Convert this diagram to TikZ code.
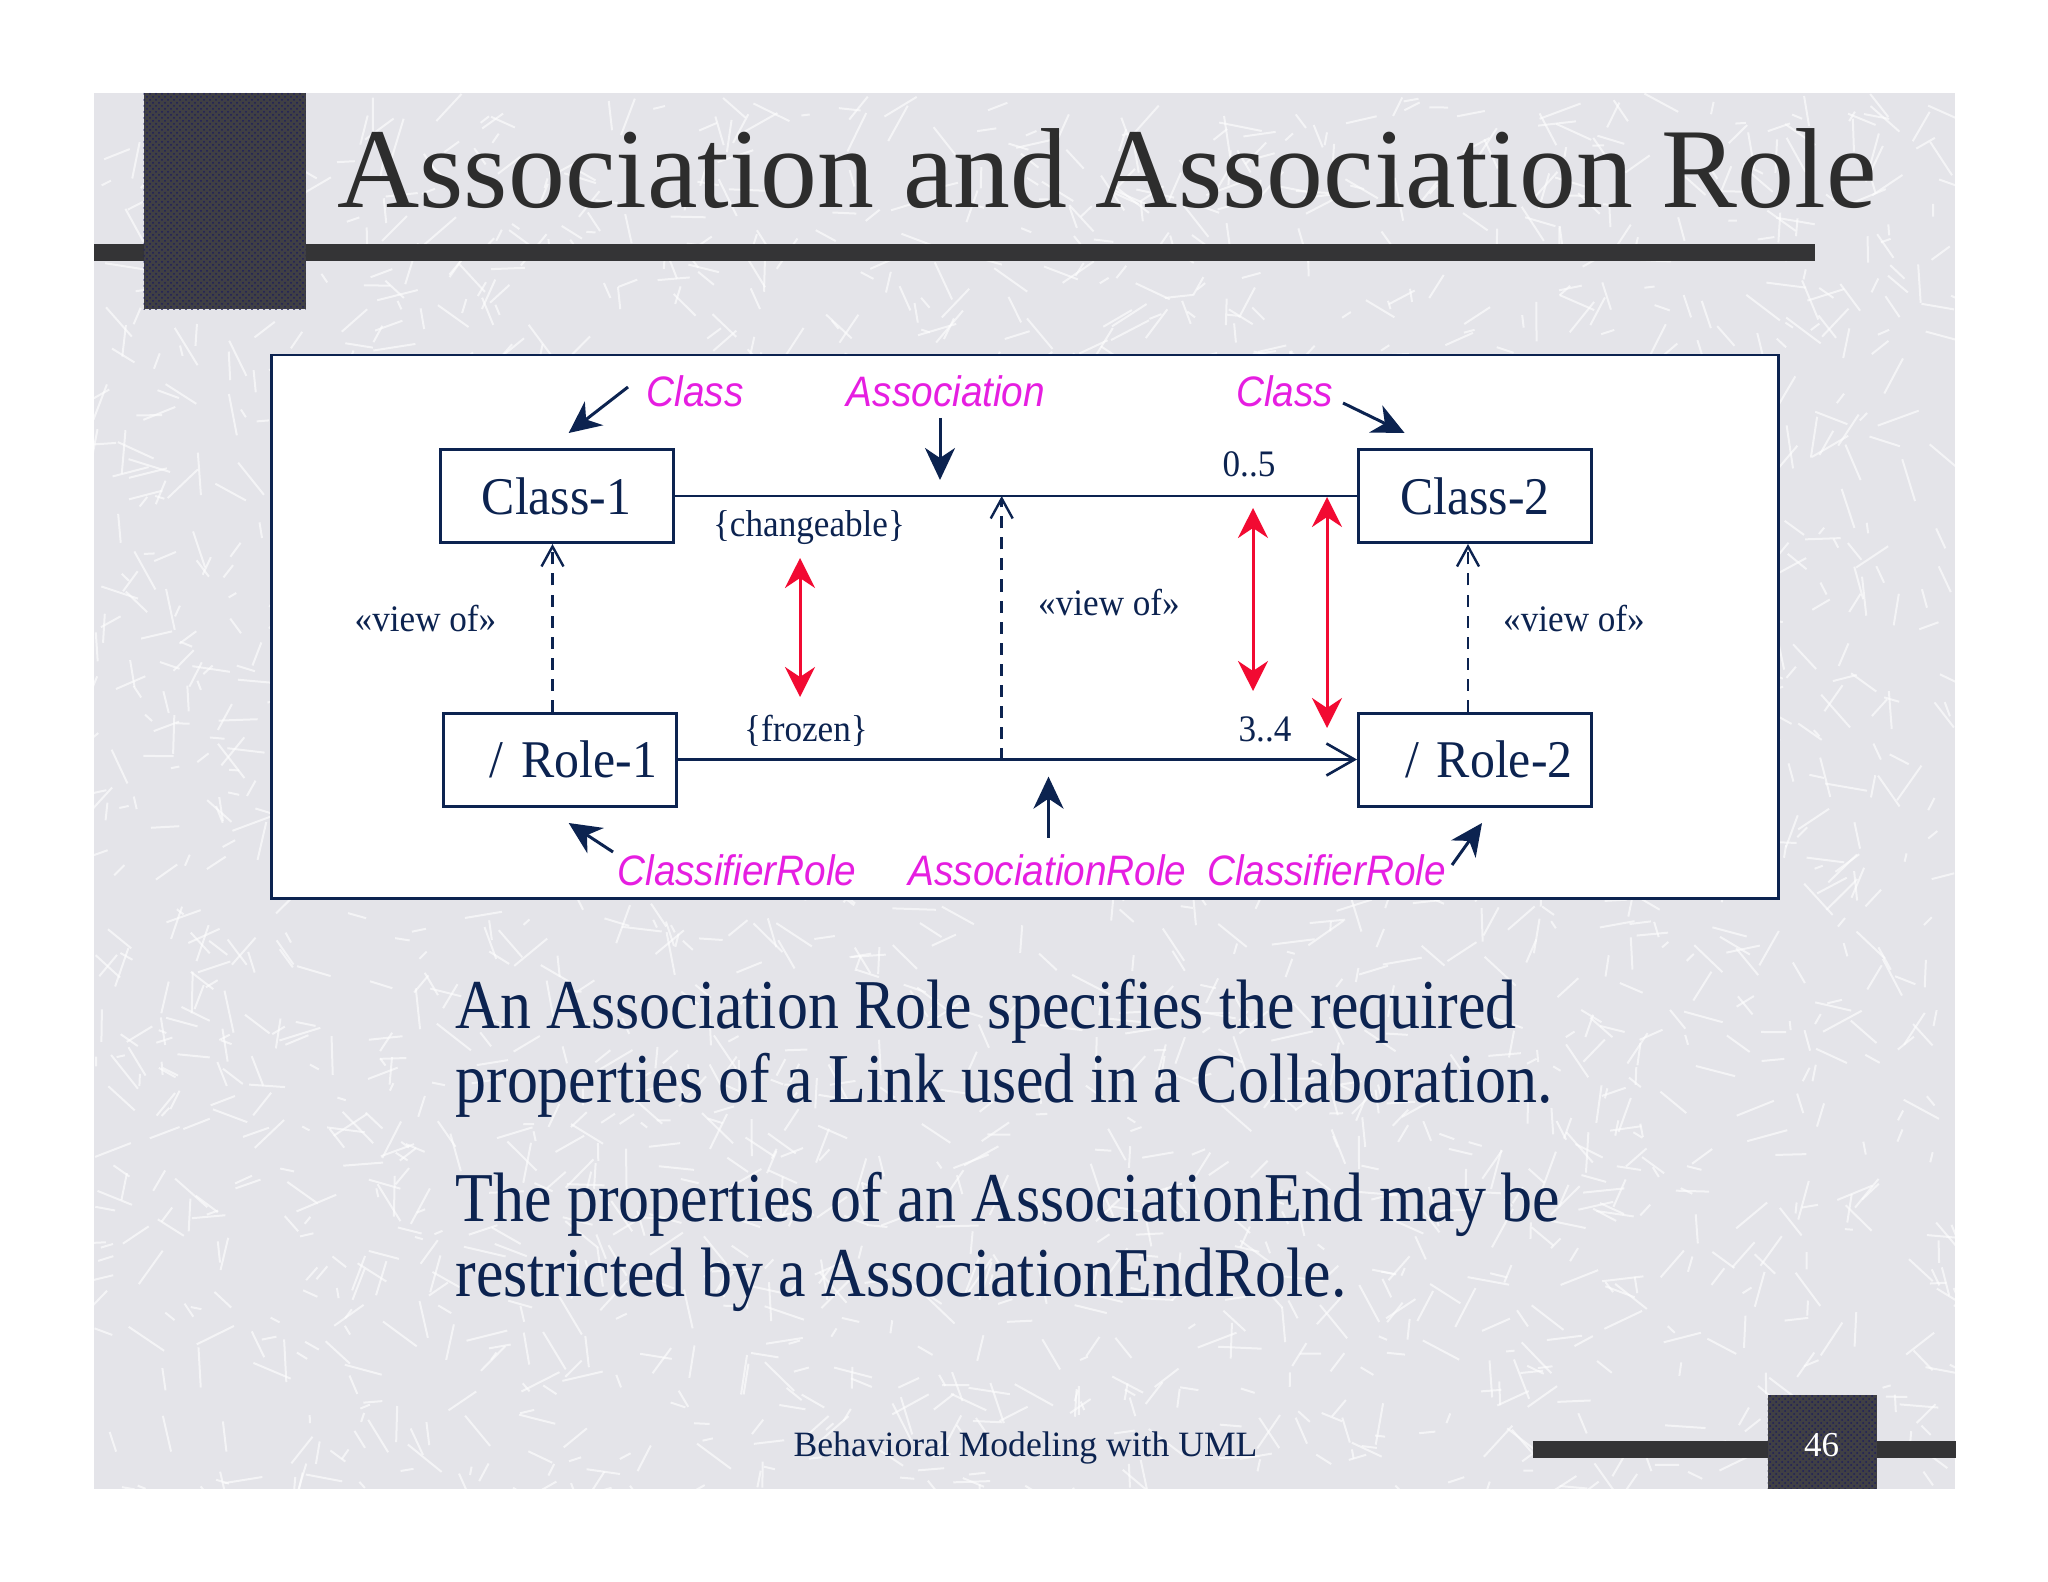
\documentclass[tikz,border=0pt]{standalone}
\usepackage{fontspec}
\setmainfont{Liberation Serif}
\newfontfamily\bodyfont{Liberation Serif}[FakeStretch=0.885]
\newfontfamily\diagfont{Liberation Serif}[FakeStretch=0.94]
\newfontfamily\metafont{Liberation Sans}[FakeStretch=0.91]
\usetikzlibrary{arrows.meta,patterns,calc}
\definecolor{bggray}{RGB}{228,228,233}
\definecolor{darkbar}{RGB}{52,52,54}
\definecolor{sqdark}{RGB}{64,64,68}
\definecolor{sqdot}{RGB}{30,30,90}
\definecolor{navy}{RGB}{12,35,80}
\definecolor{titlegray}{RGB}{45,45,45}
\definecolor{meta}{RGB}{230,30,225}
\definecolor{redarr}{RGB}{242,10,50}
\tikzset{
  umlbox/.style={draw=navy, line width=1.5pt, fill=white, minimum width=116.5pt, minimum height=46.5pt, inner sep=0pt, font=\diagfont\fontsize{26.5}{30}\selectfont, text=navy},
  rolebox/.style={umlbox, text width=97.5pt, align=right, inner xsep=9.5pt},
  smalltxt/.style={font=\diagfont\fontsize{18.7}{21}\selectfont, text=navy, inner sep=0pt},
  metatxt/.style={font=\metafont\itshape\fontsize{21.3}{24}\selectfont, text=meta, inner sep=0pt},
  conn/.style={draw=navy, line width=1.3pt},
  viewof/.style={conn, dash pattern=on 6pt off 4.5pt, -{Straight Barb[length=10pt,width=11pt,line width=1.2pt]}},
  pointer/.style={draw=navy, line width=1.5pt, -{Stealth[length=16pt,width=15pt,inset=5pt]}},
  swap/.style={draw=redarr, line width=1.5pt, {Stealth[length=15pt,width=15pt,inset=5pt]}-{Stealth[length=15pt,width=15pt,inset=5pt]}},
  bodytxt/.style={font=\bodyfont\fontsize{35}{37}\selectfont, text=navy, inner sep=0pt, anchor=base west},
}
\begin{document}
\begin{tikzpicture}[x=0.5pt,y=-0.5pt]
\useasboundingbox (0,0) rectangle (2048,1582);
\fill[white] (0,0) rectangle (2048,1582);
% slide background with texture
\fill[bggray] (94,93) rectangle (1955,1489);
\begin{scope}
\clip (94,93) rectangle (1955,1489);
\pgfmathsetseed{42}
\foreach \i in {1,...,2400} {
  \pgfmathsetmacro\xa{94+rnd*1861}
  \pgfmathsetmacro\ya{93+rnd*1396}
  \pgfmathsetmacro\ang{rnd*180}
  \pgfmathsetmacro\len{8+rnd*36}
  \draw[white, line width=1pt, opacity=0.6] (\xa,\ya) -- ++(\ang:\len);
}
\end{scope}
% title decoration
\fill[darkbar] (94,244) rectangle (1815,261);
\fill[sqdark] (143.7,93) rectangle (305.6,309.5);
\fill[pattern=crosshatch dots, pattern color=sqdot] (143.7,93) rectangle (305.6,309.5);
\node[anchor=base west, inner sep=0pt, text=titlegray, font=\fontsize{56.9}{60}\selectfont] (title) at (337,208) {Association and Association Role};
% footer decoration
\fill[darkbar] (1533,1441) rectangle (1956,1457.7);
\fill[sqdark] (1767.5,1395) rectangle (1876.6,1488.7);
\fill[pattern=crosshatch dots, pattern color=sqdot] (1767.5,1395) rectangle (1876.6,1488.7);
\node[inner sep=0pt, text=white, font=\fontsize{17.5}{20}\selectfont] (pagenum) at (1821.7,1445) {46};
\node[anchor=base, inner sep=0pt, text=navy, font=\fontsize{17.8}{20}\selectfont] (footer) at (1025.5,1456) {Behavioral Modeling with UML};
% diagram frame
\node[draw=navy, line width=1.3pt, fill=white, minimum width=753.5pt, minimum height=271.8pt, inner sep=0pt] (frame) at (1025.1,626.8) {};
% boxes
\node[umlbox] (c1) at (556.5,496) {Class-1};
\node[umlbox] (c2) at (1475,496) {Class-2};
\node[rolebox] (r1) at (559.5,759.5) {/ Role-1};
\node[rolebox] (r2) at (1475,759.5) {/ Role-2};
% associations
\draw[conn] (c1.east) -- (c2.west);
\draw[conn, -{Straight Barb[length=14pt,width=16pt,line width=1.3pt]}] (r1.east) -- (r2.west);
% view-of dependencies
\draw[viewof] ([xshift=-2pt]c1.south |- r1.north) -- ([xshift=-2pt]c1.south);
\draw[viewof] ([xshift=-3.5pt]c2.south |- r2.north) -- ([xshift=-3.5pt]c2.south);
\coordinate (mlow) at (1001.7,759.5);
\coordinate (mhigh) at (1001.7,496);
\draw[viewof] (mlow) -- (mhigh);
% labels
\node[smalltxt, anchor=base] (v1) at (425.5,632) {«view of»};
\node[smalltxt, anchor=base] (v2) at (1109,615.6) {«view of»};
\node[smalltxt, anchor=base] (v3) at (1574,632) {«view of»};
\node[smalltxt, anchor=base] (chg) at (809,537) {\{changeable\}};
\node[smalltxt, anchor=base] (frz) at (806,741) {\{frozen\}};
\node[smalltxt, anchor=base] (m05) at (1249,477) {0..5};
\node[smalltxt, anchor=base] (m34) at (1265,741) {3..4};
% red correspondence arrows
\coordinate (ra1) at (800,558); \coordinate (rb1) at (800,697);
\coordinate (ra2) at (1253,508); \coordinate (rb2) at (1253,691);
\coordinate (ra3) at (1327,497); \coordinate (rb3) at (1327,728);
\draw[swap] (ra1) -- (rb1);
\draw[swap] (ra2) -- (rb2);
\draw[swap] (ra3) -- (rb3);
% meta labels
\node[metatxt, anchor=base] (mc1) at (695,406.6) {Class};
\node[metatxt, anchor=base] (mas) at (946,406.6) {Association};
\node[metatxt, anchor=base] (mc2) at (1284.6,406.6) {Class};
\node[metatxt, anchor=base] (mr1) at (737,885.7) {ClassifierRole};
\node[metatxt, anchor=base] (mar) at (1047.5,885.7) {AssociationRole};
\node[metatxt, anchor=base] (mr2) at (1326.6,885.7) {ClassifierRole};
% pointer arrows
\coordinate (p1s) at (628,387); \coordinate (p1e) at (568.7,433);
\coordinate (p2s) at (940,418); \coordinate (p2e) at (940,480);
\coordinate (p3s) at (1343,403); \coordinate (p3e) at (1404.6,433);
\coordinate (p4s) at (613,852); \coordinate (p4e) at (568.7,823);
\coordinate (p5s) at (1048.5,837.6); \coordinate (p5e) at (1048.5,776.6);
\coordinate (p6s) at (1452,865); \coordinate (p6e) at (1482,823);
\draw[pointer] (p1s) -- (p1e);
\draw[pointer] (p2s) -- (p2e);
\draw[pointer] (p3s) -- (p3e);
\draw[pointer] (p4s) -- (p4e);
\draw[pointer] (p5s) -- (p5e);
\draw[pointer] (p6s) -- (p6e);
% body text
\node[bodytxt] (b1) at (455,1028) {An Association Role specifies the required};
\node[bodytxt] (b2) at (455,1102.5) {properties of a Link used in a Collaboration.};
\node[bodytxt] (b3) at (455,1221.7) {The properties of an AssociationEnd may be};
\node[bodytxt] (b4) at (455,1296) {restricted by a AssociationEndRole.};
\end{tikzpicture}
\end{document}
